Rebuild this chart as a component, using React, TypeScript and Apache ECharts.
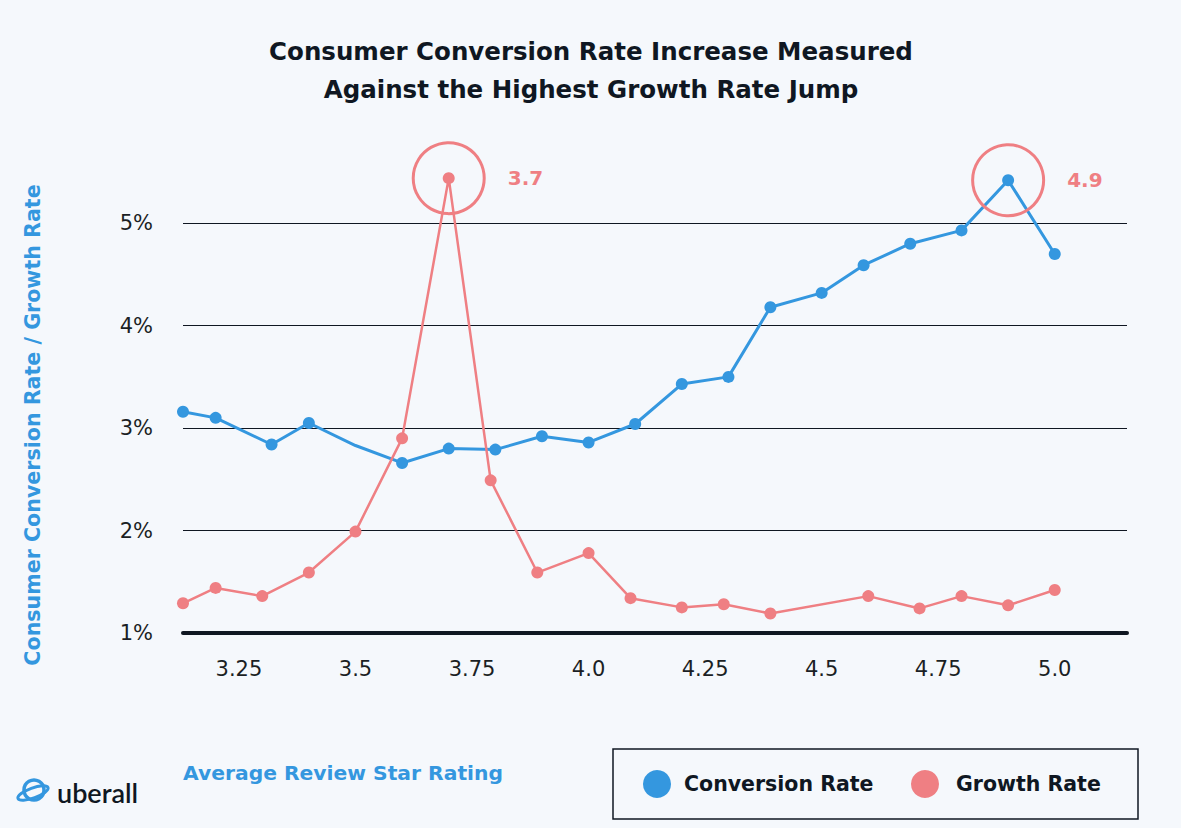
import React, { useEffect, useRef } from "react";
import * as echarts from "echarts";

const titleLines = [
  "Consumer Conversion Rate Increase Measured",
  "Against the Highest Growth Rate Jump",
];
const yAxisTitle = "Consumer Conversion Rate / Growth Rate";
const xAxisTitle = "Average Review Star Rating";
const seriesNames = ["Conversion Rate", "Growth Rate"];

const xTickValues = [3.25, 3.5, 3.75, 4.0, 4.25, 4.5, 4.75, 5.0];
const yTickValues = [1, 2, 3, 4, 5];

const conversionX = [3.13, 3.2, 3.32, 3.4, 3.5, 3.6, 3.7, 3.8, 3.9, 4.0, 4.1, 4.2, 4.3, 4.39, 4.5, 4.59, 4.69, 4.8, 4.9, 5.0];
const conversionY = [3.16, 3.1, 2.84, 3.05, 2.83, 2.66, 2.8, 2.79, 2.92, 2.86, 3.04, 3.43, 3.5, 4.18, 4.32, 4.59, 4.8, 4.93, 5.42, 4.7];
const conversionNoDot = [4];

const growthX = [3.13, 3.2, 3.3, 3.4, 3.5, 3.6, 3.7, 3.79, 3.89, 4.0, 4.09, 4.2, 4.29, 4.39, 4.6, 4.71, 4.8, 4.9, 5.0];
const growthY = [1.29, 1.44, 1.36, 1.59, 1.99, 2.9, 5.44, 2.49, 1.59, 1.78, 1.34, 1.25, 1.28, 1.19, 1.36, 1.24, 1.36, 1.27, 1.42];

const highlightGrowth = { x: 3.7, y: 5.44, label: "3.7" };
const highlightConversion = { x: 4.9, y: 5.42, label: "4.9" };

const BLUE = "#3497DF";
const RED = "#EF7F83";
const DARK = "#0F1722";
const BG = "#F5F8FC";
const FONT = "'DejaVu Sans', 'Open Sans', sans-serif";

export default function App() {
  const ref = useRef<HTMLDivElement>(null);

  useEffect(() => {
    if (!ref.current) return;
    const chart = echarts.init(ref.current, undefined, { renderer: "svg" });

    const convData = conversionX.map((x, i) =>
      conversionNoDot.includes(i)
        ? { value: [x, conversionY[i]], symbol: "none" }
        : { value: [x, conversionY[i]] }
    );
    const growthData = growthX.map((x, i) => [x, growthY[i]]);

    const ring = (h: { x: number; y: number; label: string }) => ({
      silent: true,
      symbol: "circle",
      symbolSize: 71,
      itemStyle: { color: "rgba(0,0,0,0)", borderColor: RED, borderWidth: 3 },
      label: {
        show: true,
        position: "right",
        distance: 22,
        formatter: h.label,
        color: RED,
        fontSize: 20,
        fontWeight: "bold",
        fontFamily: FONT,
      },
      data: [{ coord: [h.x, h.y] }],
    });

    chart.setOption({
      animation: false,
      backgroundColor: BG,
      textStyle: { fontFamily: FONT },
      grid: { left: 183, right: 54, top: 172, bottom: 195 },
      xAxis: {
        type: "value",
        min: 3.13,
        max: 5.155,
        axisLine: { show: true, lineStyle: { color: DARK, width: 4 } },
        axisTick: { show: false },
        splitLine: { show: false },
        axisLabel: {
          customValues: xTickValues,
          formatter: (v: number) => (Number.isInteger(v) ? v.toFixed(1) : String(v)),
          color: "#1B1F24",
          fontSize: 21,
          margin: 25,
          fontFamily: FONT,
        },
      },
      yAxis: {
        type: "value",
        min: 1,
        max: 5.5,
        interval: 1,
        axisLine: { show: false },
        axisTick: { show: false },
        splitLine: {
          show: true,
          lineStyle: {
            color: [DARK, DARK, DARK, DARK, DARK, "rgba(0,0,0,0)"],
            width: 1.2,
          },
        },
        axisLabel: {
          formatter: (v: number) => (yTickValues.includes(v) ? v + "%" : ""),
          color: "#1B1F24",
          fontSize: 21,
          margin: 30,
          fontFamily: FONT,
        },
      },
      series: [
        {
          name: seriesNames[0],
          type: "line",
          data: convData,
          symbol: "circle",
          symbolSize: 12,
          lineStyle: { color: BLUE, width: 3 },
          itemStyle: { color: BLUE },
          emphasis: { disabled: true },
          markPoint: ring(highlightConversion),
          z: 3,
        },
        {
          name: seriesNames[1],
          type: "line",
          data: growthData,
          symbol: "circle",
          symbolSize: 12,
          lineStyle: { color: RED, width: 2.5 },
          itemStyle: { color: RED },
          emphasis: { disabled: true },
          markPoint: ring(highlightGrowth),
          z: 3,
        },
      ],
      graphic: [
        {
          type: "text",
          x: 591,
          y: 32,
          style: {
            text: titleLines.join("\n"),
            align: "center",
            verticalAlign: "top",
            fontSize: 24.5,
            lineHeight: 38,
            fontWeight: "bold",
            fontFamily: FONT,
            fill: DARK,
          },
        },
        {
          type: "text",
          x: 33,
          y: 425,
          rotation: Math.PI / 2,
          style: {
            text: yAxisTitle,
            align: "center",
            verticalAlign: "middle",
            fontSize: 20.6,
            fontWeight: "bold",
            fontFamily: FONT,
            fill: BLUE,
          },
        },
        {
          type: "text",
          x: 183,
          y: 773,
          style: {
            text: xAxisTitle,
            align: "left",
            verticalAlign: "middle",
            fontSize: 20.3,
            fontWeight: "bold",
            fontFamily: FONT,
            fill: BLUE,
          },
        },
        {
          type: "rect",
          shape: { x: 613, y: 749, width: 525, height: 70 },
          style: { fill: "none", stroke: DARK, lineWidth: 1.5 },
        },
        { type: "circle", shape: { cx: 657, cy: 784, r: 14 }, style: { fill: BLUE } },
        {
          type: "text",
          x: 684,
          y: 784,
          style: {
            text: seriesNames[0],
            verticalAlign: "middle",
            fontSize: 20.5,
            fontWeight: "bold",
            fontFamily: FONT,
            fill: DARK,
          },
        },
        { type: "circle", shape: { cx: 925, cy: 784, r: 14 }, style: { fill: RED } },
        {
          type: "text",
          x: 956,
          y: 784,
          style: {
            text: seriesNames[1],
            verticalAlign: "middle",
            fontSize: 20.5,
            fontWeight: "bold",
            fontFamily: FONT,
            fill: DARK,
          },
        },
        // logo
        {
          type: "circle",
          shape: { cx: 34, cy: 790, r: 10 },
          style: { fill: "none", stroke: BLUE, lineWidth: 3.5 },
        },
        {
          type: "ellipse",
          x: 33,
          y: 793,
          rotation: 0.35,
          shape: { cx: 0, cy: 0, rx: 16, ry: 5 },
          style: { fill: "none", stroke: BLUE, lineWidth: 3 },
        },
        {
          type: "text",
          x: 57,
          y: 792,
          style: {
            text: "uberall",
            verticalAlign: "middle",
            fontSize: 27,
            fontWeight: 600,
            fontFamily: "Lato, 'Open Sans', sans-serif",
            fill: DARK,
          },
        },
      ],
    });

    return () => chart.dispose();
  }, []);

  return (
    <div
      ref={ref}
      style={{ position: "fixed", left: 0, top: 0, width: 1181, height: 828 }}
    />
  );
}
